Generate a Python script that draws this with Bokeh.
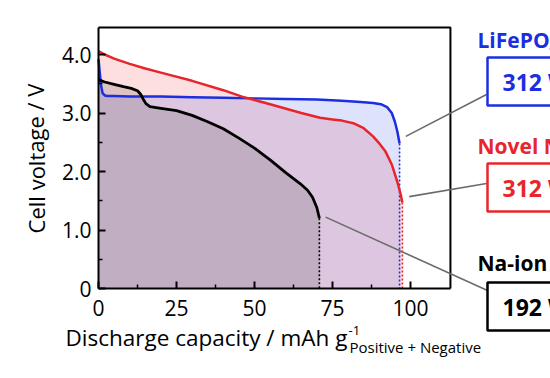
from bokeh.plotting import figure
from bokeh.models import Range1d, FixedTicker, Label
from bokeh.embed import file_html
from bokeh.resources import INLINE

# ---------------- data ----------------
lfp_x = [0, 0.4, 0.8, 1.3, 2, 3, 5, 10, 20, 30, 40, 50, 60, 70, 78, 84, 88, 90.5, 92.5, 94, 95, 95.8, 96.5]
lfp_v = [3.92, 3.70, 3.48, 3.34, 3.30, 3.29, 3.29, 3.28, 3.28, 3.27, 3.26, 3.25, 3.24, 3.23, 3.21, 3.19, 3.17, 3.15, 3.10, 3.00, 2.85, 2.68, 2.48]

novel_x = [0, 2, 5, 10, 15, 20, 30, 40, 46, 55, 65, 71, 75, 78, 82, 85, 88, 90, 92, 94, 95.8, 96.8, 97.4]
novel_v = [4.06, 4.00, 3.93, 3.84, 3.76, 3.69, 3.55, 3.39, 3.28, 3.15, 3.00, 2.92, 2.89, 2.87, 2.82, 2.74, 2.60, 2.48, 2.34, 2.12, 1.82, 1.62, 1.47]

na_x = [0, 2, 5, 8, 10.5, 12.5, 13.5, 14.3, 15.2, 16.5, 20, 25, 30, 35, 40, 45, 50, 55, 60, 64.7, 67, 68.6, 70, 70.8]
na_v = [3.57, 3.53, 3.49, 3.45, 3.42, 3.38, 3.32, 3.24, 3.16, 3.11, 3.08, 3.04, 2.96, 2.85, 2.73, 2.57, 2.40, 2.20, 1.98, 1.79, 1.68, 1.56, 1.38, 1.20]

x_ticks = [0, 25, 50, 75, 100]
x_minor = [12.5, 37.5, 62.5, 87.5]
y_ticks = [0, 1, 2, 3, 4]
y_minor = [0.5, 1.5, 2.5, 3.5]
y_tick_labels = {0: "0", 1: "1.0", 2: "2.0", 3: "3.0", 4: "4.0"}

series_names = ["LiFePO\u2084/graphite", "Novel Na-ion", "Na-ion"]
energies = ["312 Wh kg\u207b\u00b9", "312 Wh kg\u207b\u00b9", "192 Wh kg\u207b\u00b9"]

# ---------------- layout constants (page pixels -> data) ----------------
X_MAX = 112.8      # right edge of the axes box
Y_MAX = 4.46       # top edge of the axes box
PX_PER_X = 3.12
PX_PER_Y = 58.5
ORIGIN_PX = 98     # page x of capacity 0
ORIGIN_PY = 288    # page y of voltage 0
W, H = 550, 378

def X(px):
    return (px - ORIGIN_PX) / PX_PER_X

def Y(py):
    return (ORIGIN_PY - py) / PX_PER_Y

BLUE = "#1b2fe0"
RED = "#e8252b"
BLACK = "#000000"
GREY = "#6b6b6b"
FONT = "Open Sans"

p = figure(width=W, height=H, output_backend="svg", toolbar_location=None,
           x_range=Range1d(X(0), X(W)), y_range=Range1d(Y(H), Y(0)),
           min_border=0)
p.title.visible = False
p.xgrid.visible = False
p.ygrid.visible = False
p.outline_line_color = None

for ax in (p.xaxis[0], p.yaxis[0]):
    ax.fixed_location = 0
    ax.major_tick_in = 7
    ax.major_tick_out = 0
    ax.minor_tick_in = 4
    ax.minor_tick_out = 0
    ax.axis_line_width = 2
    ax.axis_line_color = "black"
    ax.major_tick_line_width = 2
    ax.major_tick_line_color = "black"
    ax.minor_tick_line_width = 1.5
    ax.minor_tick_line_color = "black"
    ax.major_label_text_font = FONT
    ax.major_label_text_font_size = "21px"
    ax.major_label_text_color = "black"

p.xaxis.ticker = FixedTicker(ticks=x_ticks, minor_ticks=x_minor)
p.xaxis.bounds = (0, X_MAX)
p.xaxis.major_label_standoff = 11
p.yaxis.ticker = FixedTicker(ticks=y_ticks, minor_ticks=y_minor)
p.yaxis.bounds = (0, Y_MAX)
p.yaxis.major_label_overrides = y_tick_labels
p.yaxis.major_label_standoff = 7

# y axis title
p.add_layout(Label(x=X(35), y=Y(158), text="Cell voltage / V", text_font=FONT,
                   text_font_size="22px", text_color="black", angle=1.5708,
                   angle_units="rad", text_align="center", text_baseline="middle"))

# top and right edges of the axes box
p.line(x=[0, X_MAX, X_MAX], y=[Y_MAX, Y_MAX, 0], line_color="black", line_width=2)

# filled areas
p.varea(x=novel_x, y1=0, y2=novel_v, fill_color="#f02828", fill_alpha=0.15)
p.varea(x=lfp_x, y1=0, y2=lfp_v, fill_color="#283ce6", fill_alpha=0.15)
p.varea(x=na_x, y1=0, y2=na_v, fill_color="#000000", fill_alpha=0.12)

# dotted drops at the end of discharge
for xs, vs, c in ((lfp_x, lfp_v, BLUE), (novel_x, novel_v, RED), (na_x, na_v, BLACK)):
    p.line(x=[xs[-1], xs[-1]], y=[vs[-1], 0], line_color=c, line_width=1.6, line_dash="2 2")

# curves
p.line(x=lfp_x, y=lfp_v, line_color=BLUE, line_width=2.5, line_join="round")
p.line(x=novel_x, y=novel_v, line_color=RED, line_width=2.5, line_join="round")
p.line(x=na_x, y=na_v, line_color=BLACK, line_width=2.8, line_join="round")

# connectors to the annotation boxes
p.segment(x0=[lfp_x[-1] + 2.0, novel_x[-1] + 2.2, na_x[-1] + 2.0],
          y0=[lfp_v[-1] + 0.12, novel_v[-1] + 0.1, na_v[-1] + 0.02],
          x1=[X(486), X(486), X(487)], y1=[Y(94), Y(183), Y(290)],
          line_color=GREY, line_width=1.6)

# annotation texts and boxes
colors = [BLUE, RED, BLACK]
name_mid = [39, 145, 262]
box_top = [57, 163, 282]
for name, en, c, nm, bt in zip(series_names, energies, colors, name_mid, box_top):
    p.add_layout(Label(x=X(477), y=Y(nm), text=name, text_font=FONT, text_font_style="bold",
                       text_font_size="21px", text_color=c, text_baseline="middle"))
    p.add_layout(Label(x=X(487), y=Y(bt), text=en, text_font=FONT, text_font_style="bold",
                       text_font_size="23px", text_color=c, text_align="left", text_baseline="top",
                       border_line_color=c, border_line_width=2.5, background_fill_color="white",
                       padding=(15, 8)))

# x axis title with super/subscript
p.add_layout(Label(x=X(65), y=Y(337), text="Discharge capacity / mAh g", text_font=FONT,
                   text_font_size="22.5px", text_color="black", text_baseline="middle"))
p.add_layout(Label(x=X(348), y=Y(330), text="-1", text_font=FONT,
                   text_font_size="13px", text_color="black", text_baseline="middle"))
p.add_layout(Label(x=X(349), y=Y(346), text="Positive + Negative", text_font=FONT,
                   text_font_size="15px", text_color="black", text_baseline="middle"))

open("out.html", "w").write(file_html(p, INLINE))
